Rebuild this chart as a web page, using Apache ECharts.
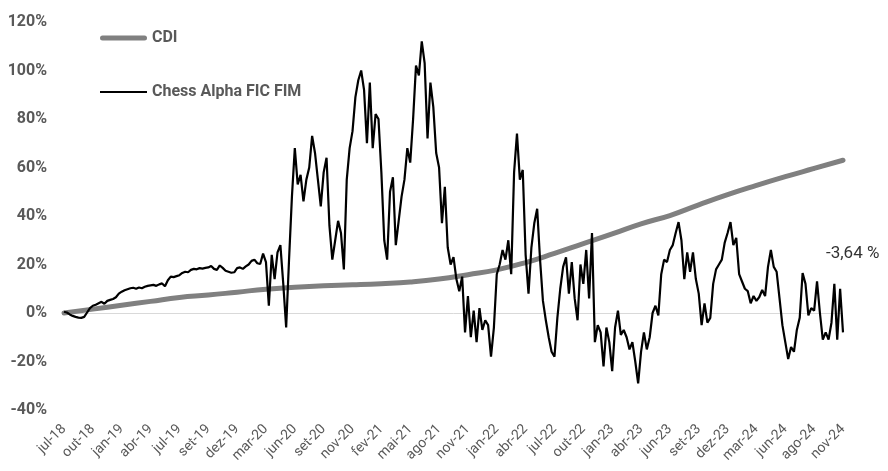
<!DOCTYPE html>
<html>
<head>
<meta charset="utf-8">
<script src="https://cdn.jsdelivr.net/npm/echarts@6/dist/echarts.min.js"></script>
<style>
html,body{margin:0;padding:0;background:#fff;}
#chart{width:888px;height:471px;}
</style>
</head>
<body>
<div id="chart"></div>
<script>
// Tick labels along the x axis (one every 10 data points)
var xLabels = ['jul-18','out-18','jan-19','abr-19','jul-19','set-19','dez-19','mar-20','jun-20','set-20','nov-20','fev-21','mai-21','ago-21','nov-21','jan-22','abr-22','jul-22','out-22','jan-23','abr-23','jun-23','set-23','dez-23','mar-24','jun-24','ago-24','nov-24'];
var pointsPerLabel = 10;

// CDI cumulative return (%) at each tick label
var cdi = [0, 1.6, 3.2, 4.8, 6.4, 7.4, 8.6, 9.8, 10.6, 11.2, 11.6, 12.1, 12.8, 14.0, 15.8, 17.8, 20.8, 24.6, 28.6, 32.6, 36.8, 40.2, 44.6, 48.8, 52.6, 56.2, 59.6, 63.0];

// Chess Alpha FIC FIM cumulative return (%)
var chessAlpha = [
  0.5, 0.2, -0.6, -1.2, -1.6, -1.9, -2.0, -1.6, 0.2, 2.0,
  3, 3.4, 4, 4.6, 3.8, 5, 5.4, 5.8, 6.5, 8,
  8.8, 9.4, 9.8, 10.2, 10.4, 10.0, 10.5, 10.2, 10.8, 11.2,
  11.4, 11.6, 11.2, 11.8, 12.2, 11.0, 13.5, 15, 14.8, 15.2,
  15.6, 16.5, 17, 16.8, 17.8, 18.2, 18, 18.5, 18.3, 18.6,
  18.8, 19.4, 18.2, 17.8, 19.6, 18.6, 17.4, 17, 16.6, 16.8,
  18.5, 18.8, 18.2, 19.2, 20, 21.5, 22, 20.5, 20.2, 24.5,
  21, 3, 24, 14, 25, 28, 12, -6, 22, 48,
  68, 53, 57, 46, 55, 60, 73, 66, 55, 44,
  58, 64, 36, 22, 30, 38, 33, 18, 55, 68,
  75, 89, 96, 100, 92, 70, 95, 68, 82, 80,
  58, 30, 22, 50, 56, 28, 38, 48, 55, 68,
  62, 80, 102, 98, 112, 103, 72, 95, 85, 66,
  60, 37, 52, 27, 20, 23, 14, 9, 15, -8,
  7, -10, 1, -12, 2, -7, -3, -5, -18, -6,
  16, 20, 26, 22, 30, 16, 58, 74, 55, 59,
  24, 8, 27, 37, 43, 22, 5, -3, -10, -16,
  -18, -2, 10, 19, 23, 8, 21, 6, -3, 20,
  12, 26, 6, 33, -12, -5, -8, -22, -6, -12,
  -24, -6, 1, -9, -7, -10, -15, -12, -20, -29,
  -16, -8, -15, -10, 0, 3, -1, 16, 22, 21,
  26, 28, 33, 37.5, 30, 14, 25, 17, 25, 14,
  8, -5, 4, -4, -2, 12, 18, 20, 22, 29,
  33, 37.5, 28, 31, 16, 13, 10, 9, 4, 7,
  5, 6.6, 9.5, 7, 19, 26, 19, 17, 6, -5,
  -12, -19, -14, -16, -7, -2, 16.5, 12, -1, 2,
  1, 13, 0, -11, -8, -11, -4, 12, -11, 10,
  -8
];

var yTicks = [-40, -20, 0, 20, 40, 60, 80, 100, 120];
var finalLabel = '-3,64 %';

// Build category axis and CDI series aligned with it
var categories = chessAlpha.map(function (v, i) {
  return (i % pointsPerLabel === 0) ? xLabels[i / pointsPerLabel] : '';
});
var cdiSeries = chessAlpha.map(function (v, i) {
  return (i % pointsPerLabel === 0) ? cdi[i / pointsPerLabel] : null;
});
var splitColors = yTicks.map(function (t) { return t === 0 ? '#d9d9d9' : 'rgba(0,0,0,0)'; });

var chart = echarts.init(document.getElementById('chart'), null, {renderer: 'canvas'});
chart.setOption({
  animation: false,
  backgroundColor: '#ffffff',
  textStyle: {fontFamily: 'Roboto'},
  grid: {left: 64, right: 45, top: 22, bottom: 61, containLabel: false},
  legend: {
    left: 100, top: 30, orient: 'vertical', itemGap: 38, padding: 0,
    itemWidth: 47, itemHeight: 16, symbolKeepAspect: true,
    textStyle: {color: '#595959', fontSize: 16, fontWeight: 'bold', fontFamily: 'Roboto'},
    data: [
      {name: 'CDI', icon: 'path://M2.5,0 L44.5,0 A2.5,2.5 0 0 1 44.5,5 L2.5,5 A2.5,2.5 0 0 1 2.5,0 Z'},
      {name: 'Chess Alpha FIC FIM', icon: 'path://M0,0 L47,0 L47,2 L0,2 Z'}
    ]
  },
  xAxis: {
    type: 'category',
    data: categories,
    boundaryGap: false,
    axisLine: {show: false},
    axisTick: {show: false},
    splitLine: {show: false},
    axisLabel: {
      interval: pointsPerLabel - 1,
      rotate: 45,
      margin: 17,
      color: '#595959',
      fontSize: 14,
      fontFamily: 'Roboto'
    }
  },
  yAxis: {
    type: 'value',
    min: -40, max: 120, interval: 20,
    axisLine: {show: false},
    axisTick: {show: false},
    axisLabel: {
      formatter: '{value}%',
      color: '#595959',
      fontSize: 16,
      fontWeight: 'bold',
      margin: 17,
      fontFamily: 'Roboto'
    },
    splitLine: {show: true, lineStyle: {color: splitColors, width: 1}}
  },
  series: [
    {
      name: 'CDI', type: 'line', data: cdiSeries, connectNulls: true,
      smooth: true, symbol: 'none',
      lineStyle: {color: '#808080', width: 5, cap: 'round'},
      itemStyle: {color: '#808080'},
      z: 2
    },
    {
      name: 'Chess Alpha FIC FIM', type: 'line', data: chessAlpha,
      symbol: 'none',
      lineStyle: {color: '#000000', width: 2.2},
      itemStyle: {color: '#000000'},
      z: 3
    }
  ],
  graphic: [{
    type: 'text', left: 826, top: 245,
    style: {text: finalLabel, fill: '#333333', fontSize: 17, fontFamily: 'Roboto', fontWeight: 'normal'}
  }]
});
</script>
</body>
</html>
